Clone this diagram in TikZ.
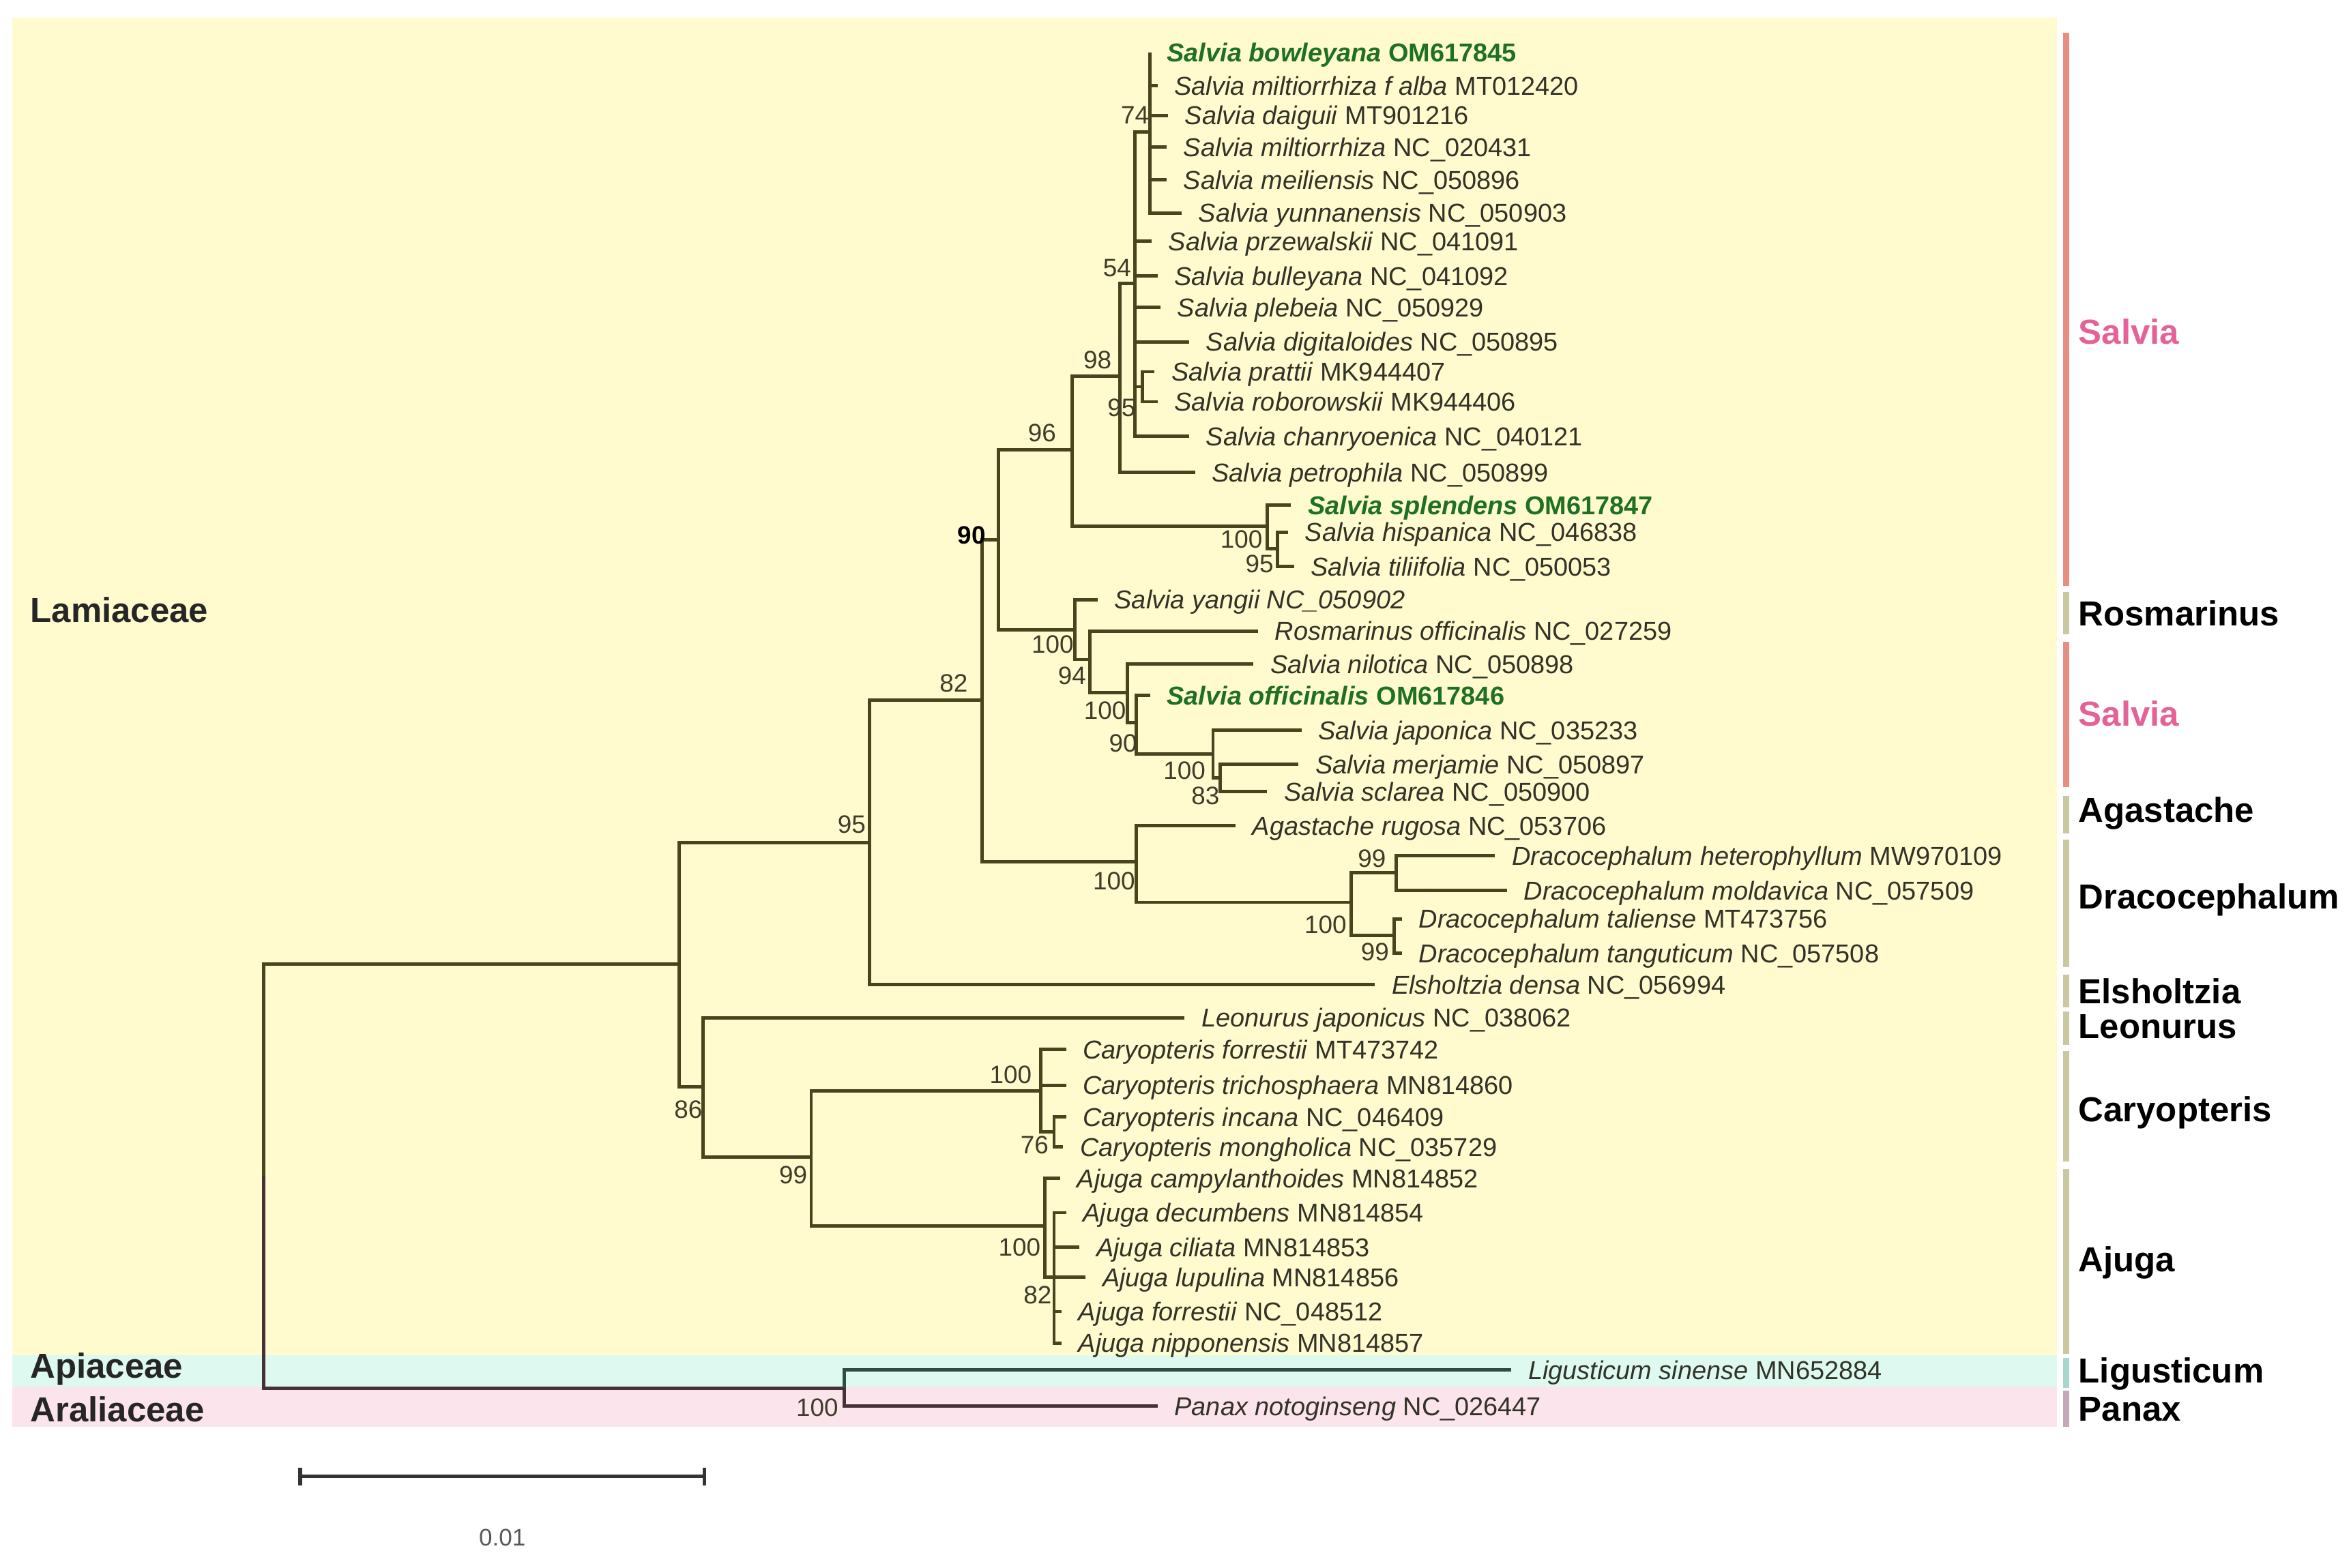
\documentclass[tikz,border=0pt]{standalone}
\usepackage{fontspec}
\setmainfont{Liberation Sans}
\usetikzlibrary{arrows.meta}

\definecolor{lamiback}{RGB}{255,251,206}
\definecolor{apiback}{RGB}{222,250,240}
\definecolor{araliback}{RGB}{252,228,236}
\definecolor{treecol}{RGB}{72,68,30}
\definecolor{leafcol}{RGB}{50,50,40}
\definecolor{bootcol}{RGB}{62,60,42}
\definecolor{newgreen}{RGB}{30,112,36}
\definecolor{salviapink}{RGB}{228,98,152}
\definecolor{salviabar}{RGB}{232,142,130}
\definecolor{otherbar}{RGB}{202,200,160}
\definecolor{ligubar}{RGB}{168,214,204}
\definecolor{panaxbar}{RGB}{196,168,186}
\definecolor{ligucol}{RGB}{45,78,62}
\definecolor{panaxcol}{RGB}{72,48,58}

\begin{document}
\begin{tikzpicture}[x=0.022cm,y=-0.022cm,
  branch/.style={line width=1.4pt,draw=treecol},
  leaf/.style={anchor=west,inner xsep=6.9pt,inner ysep=0pt,text depth=0pt,text=leafcol,font=\fontsize{10.8}{13}\selectfont},
  newleaf/.style={leaf,text=newgreen,font=\fontsize{10.8}{13}\selectfont\bfseries},
  boot/.style={inner sep=0pt,text=bootcol,font=\fontsize{10.5}{12}\selectfont},
  genus/.style={anchor=west,inner sep=0pt,text depth=0pt,font=\fontsize{14.5}{16}\selectfont\bfseries},
  family/.style={anchor=west,inner sep=0pt,text depth=0pt,text=black!85,font=\fontsize{14.5}{16}\selectfont\bfseries},
  gbar/.style={line width=2.5pt}]

\useasboundingbox (0,0) rectangle (1568,1046);
\fill[white] (0,0) rectangle (1568,1046);

% family shading
\fill[lamiback] (8,12) rectangle (1372,904);
\fill[apiback] (8,904) rectangle (1372,925);
\fill[araliback] (8,925) rectangle (1372,952);

% internal nodes
\coordinate (root) at (176,784.5);
\coordinate (lam) at (453,643);
\coordinate (out) at (563,926);
\coordinate (n95) at (580,562);
\coordinate (n86) at (469,725);
\coordinate (n82) at (655,467);
\coordinate (n90) at (666,360);
\coordinate (nAD) at (758,575);
\coordinate (n96) at (715,300);
\coordinate (nY) at (717,420);
\coordinate (n98) at (747,251);
\coordinate (nSp) at (845,351);
\coordinate (n54) at (757,189);
\coordinate (n74) at (767,88);
\coordinate (nPR) at (762,258);
\coordinate (nHT) at (852,366);
\coordinate (n94) at (727,440);
\coordinate (nN) at (752,462);
\coordinate (nO) at (758,482);
\coordinate (nJ) at (809,503);
\coordinate (n83) at (814,519);
\coordinate (nD) at (901,602);
\coordinate (nDa) at (931,582);
\coordinate (nDb) at (930,624);
\coordinate (n99) at (541,772);
\coordinate (nC) at (694,728);
\coordinate (nCm) at (703,755);
\coordinate (nA) at (697,818);
\coordinate (nA82) at (703,852);

% taxa
\node[newleaf] (t1) at (767,35) {{\itshape Salvia bowleyana} OM617845};
\node[leaf] (t2) at (772,57) {\textit{Salvia miltiorrhiza f alba} MT012420};
\node[leaf] (t3) at (779,77) {\textit{Salvia daiguii} MT901216};
\node[leaf] (t4) at (778,98) {\textit{Salvia miltiorrhiza} NC\_020431};
\node[leaf] (t5) at (778,120) {\textit{Salvia meiliensis} NC\_050896};
\node[leaf] (t6) at (788,142) {\textit{Salvia yunnanensis} NC\_050903};
\node[leaf] (t7) at (768,161) {\textit{Salvia przewalskii} NC\_041091};
\node[leaf] (t8) at (772,184) {\textit{Salvia bulleyana} NC\_041092};
\node[leaf] (t9) at (774,205) {\textit{Salvia plebeia} NC\_050929};
\node[leaf] (t10) at (793,228) {\textit{Salvia digitaloides} NC\_050895};
\node[leaf] (t11) at (770,248) {\textit{Salvia prattii} MK944407};
\node[leaf] (t12) at (772,268) {\textit{Salvia roborowskii} MK944406};
\node[leaf] (t13) at (793,291) {\textit{Salvia chanryoenica} NC\_040121};
\node[leaf] (t14) at (797,315) {\textit{Salvia petrophila} NC\_050899};
\node[newleaf] (t15) at (861,337) {{\itshape Salvia splendens} OM617847};
\node[leaf] (t16) at (859,355) {\textit{Salvia hispanica} NC\_046838};
\node[leaf] (t17) at (863,378) {\textit{Salvia tiliifolia} NC\_050053};
\node[leaf] (t18) at (732,400) {\textit{Salvia yangii NC\_050902}};
\node[leaf] (t19) at (839,421) {\textit{Rosmarinus officinalis} NC\_027259};
\node[leaf] (t20) at (836,443) {\textit{Salvia nilotica} NC\_050898};
\node[newleaf] (t21) at (767,464) {{\itshape Salvia officinalis} OM617846};
\node[leaf] (t22) at (868,487) {\textit{Salvia japonica} NC\_035233};
\node[leaf] (t23) at (866,510) {\textit{Salvia merjamie} NC\_050897};
\node[leaf] (t24) at (845,528) {\textit{Salvia sclarea} NC\_050900};
\node[leaf] (t25) at (824,551) {\textit{Agastache rugosa} NC\_053706};
\node[leaf] (t26) at (997,571) {\textit{Dracocephalum heterophyllum} MW970109};
\node[leaf] (t27) at (1005,594) {\textit{Dracocephalum moldavica} NC\_057509};
\node[leaf] (t28) at (935,613) {\textit{Dracocephalum taliense} MT473756};
\node[leaf] (t29) at (935,636) {\textit{Dracocephalum tanguticum} NC\_057508};
\node[leaf] (t30) at (917,657) {\textit{Elsholtzia densa} NC\_056994};
\node[leaf] (t31) at (790,679) {\textit{Leonurus japonicus} NC\_038062};
\node[leaf] (t32) at (711,700) {\textit{Caryopteris forrestii} MT473742};
\node[leaf] (t33) at (711,724) {\textit{Caryopteris trichosphaera} MN814860};
\node[leaf] (t34) at (711,745) {\textit{Caryopteris incana} NC\_046409};
\node[leaf] (t35) at (709,765) {\textit{Caryopteris mongholica} NC\_035729};
\node[leaf] (t36) at (707,786) {\textit{Ajuga campylanthoides} MN814852};
\node[leaf] (t37) at (711,809) {\textit{Ajuga decumbens} MN814854};
\node[leaf] (t38) at (720,832) {\textit{Ajuga ciliata} MN814853};
\node[leaf] (t39) at (724,852) {\textit{Ajuga lupulina} MN814856};
\node[leaf] (t40) at (708,875) {\textit{Ajuga forrestii} NC\_048512};
\node[leaf] (t41) at (708,896) {\textit{Ajuga nipponensis} MN814857};
\node[leaf] (t42) at (1008,914) {\textit{Ligusticum sinense} MN652884};
\node[leaf] (t43) at (772,938) {\textit{Panax notoginseng} NC\_026447};

% branches
\foreach \from/\to in {root/lam,lam/n95,lam/n86,n95/n82,n82/n90,n82/nAD,n90/n96,n90/nY,n96/n98,n96/nSp,
  n98/n54,n54/n74,n54/nPR,nSp/nHT,nY/n94,n94/nN,nN/nO,nO/nJ,nJ/n83,nAD/nD,nD/nDa,nD/nDb,
  n86/n99,n99/nC,n99/nA,nC/nCm,nA/nA82}
  \draw[branch] (\from) |- (\to);
\foreach \from/\to in {n74/t1,n74/t2,n74/t3,n74/t4,n74/t5,n74/t6,n54/t7,n54/t8,n54/t9,n54/t10,nPR/t11,nPR/t12,
  n54/t13,n98/t14,nSp/t15,nHT/t16,nHT/t17,nY/t18,n94/t19,nN/t20,nO/t21,nJ/t22,n83/t23,n83/t24,
  nAD/t25,nDa/t26,nDa/t27,nDb/t28,nDb/t29,n95/t30,n86/t31,nC/t32,nC/t33,nCm/t34,nCm/t35,
  nA/t36,nA82/t37,nA82/t38,nA82/t39,nA82/t40,nA82/t41}
  \draw[branch] (\from) |- (\to.west);
\draw[branch,draw=panaxcol] (root) |- (out);
\draw[branch,draw=ligucol] (out) |- (t42.west);
\draw[branch,draw=panaxcol] (out) |- (t43.west);

% bootstrap values
\node[boot] (b1) at (757,77) {74};
\node[boot] (b2) at (745,179) {54};
\node[boot] (b3) at (732,240) {98};
\node[boot] (b4) at (748,272) {95};
\node[boot] (b5) at (695,289) {96};
\node[boot,text=black,font=\fontsize{10.5}{12}\selectfont\bfseries] (b6) at (648,357) {90};
\node[boot] (b7) at (828,360) {100};
\node[boot] (b8) at (840,376) {95};
\node[boot] (b9) at (702,430) {100};
\node[boot] (b10) at (715,451) {94};
\node[boot] (b11) at (737,474) {100};
\node[boot] (b12) at (749,496) {90};
\node[boot] (b13) at (790,514) {100};
\node[boot] (b14) at (804,531) {83};
\node[boot] (b15) at (636,456) {82};
\node[boot] (b16) at (568,550) {95};
\node[boot] (b17) at (743,588) {100};
\node[boot] (b18) at (915,573) {99};
\node[boot] (b19) at (884,617) {100};
\node[boot] (b20) at (917,635) {99};
\node[boot] (b21) at (459,740) {86};
\node[boot] (b22) at (674,717) {100};
\node[boot] (b23) at (690,764) {76};
\node[boot] (b24) at (529,784) {99};
\node[boot] (b25) at (680,832) {100};
\node[boot] (b26) at (692,864) {82};
\node[boot] (b27) at (545,939) {100};

% genus bars
\draw[gbar,salviabar] (1378,22) -- (1378,391);
\draw[gbar,otherbar] (1378,395) -- (1378,423);
\draw[gbar,salviabar] (1378,428) -- (1378,525);
\draw[gbar,otherbar] (1378,531) -- (1378,556);
\draw[gbar,otherbar] (1378,560) -- (1378,645);
\draw[gbar,otherbar] (1378,650) -- (1378,672);
\draw[gbar,otherbar] (1378,675) -- (1378,697);
\draw[gbar,otherbar] (1378,701) -- (1378,775);
\draw[gbar,otherbar] (1378,780) -- (1378,903);
\draw[gbar,ligubar] (1378,906) -- (1378,926);
\draw[gbar,panaxbar] (1378,928) -- (1378,952);

\node[genus,text=salviapink] (g1) at (1386,221) {Salvia};
\node[genus] (g2) at (1386,409) {Rosmarinus};
\node[genus,text=salviapink] (g3) at (1386,476) {Salvia};
\node[genus] (g4) at (1386,540) {Agastache};
\node[genus] (g5) at (1386,598) {Dracocephalum};
\node[genus] (g6) at (1386,661) {Elsholtzia};
\node[genus] (g7) at (1386,685) {Leonurus};
\node[genus] (g8) at (1386,740) {Caryopteris};
\node[genus] (g9) at (1386,840) {Ajuga};
\node[genus] (g10) at (1386,914) {Ligusticum};
\node[genus] (g11) at (1386,940) {Panax};

\node[family] (f1) at (20,407) {Lamiaceae};
\node[family] (f2) at (20,911) {Apiaceae};
\node[family] (f3) at (20,940) {Araliaceae};

% scale
\coordinate (sc1) at (199,985);
\coordinate (sc2) at (471,985);
\draw[line width=1.5pt,black!80,{Bar[width=7.5pt]}-{Bar[width=7.5pt]}] (sc1) -- (sc2);
\node[boot,text=black!65,font=\fontsize{10}{12}\selectfont] (sc) at (335,1026) {0.01};

\end{tikzpicture}
\end{document}
